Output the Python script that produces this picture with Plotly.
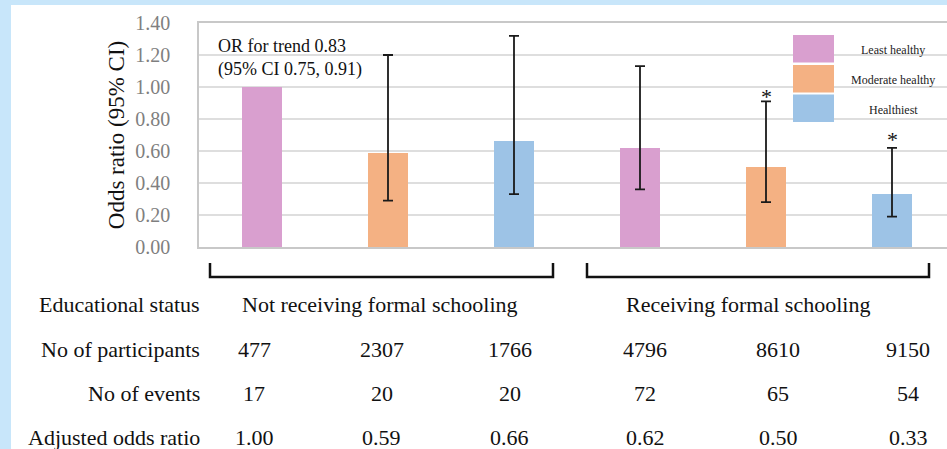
import plotly.graph_objects as go

# ---- data ----
groups = ["Not receiving formal schooling", "Receiving formal schooling"]
health = ["Least healthy", "Moderate healthy", "Healthiest"]
odds = [1.00, 0.59, 0.66, 0.62, 0.50, 0.33]
ci_upper = [None, 1.20, 1.32, 1.13, 0.91, 0.62]
ci_lower = [None, 0.29, 0.33, 0.36, 0.28, 0.19]
participants = ["477", "2307", "1766", "4796", "8610", "9150"]
events = ["17", "20", "20", "72", "65", "54"]
aor_labels = ["1.00", "0.59", "0.66", "0.62", "0.50", "0.33"]
significant = [False, False, False, False, True, True]
row_labels = ["Educational status", "No of participants", "No of events", "Adjusted odds ratio"]
y_ticks = [0, 0.2, 0.4, 0.6, 0.8, 1.0, 1.2, 1.4]
y_ticktext = ["0.00", "0.20", "0.40", "0.60", "0.80", "1.00", "1.20", "1.40"]
trend_text = "OR for trend 0.83<br>(95% CI 0.75, 0.91)"

colors = ["#D99FCF", "#F4B183", "#9DC3E6"]
FONT = "Liberation Serif"

W, H = 947, 449
L, R, T, B = 199, 947, 23, 247


def px(xp):
    return (xp - L) / (R - L)


def py(yp):
    return (B - yp) / (B - T)


xpos = list(range(len(odds)))
bar_colors = [colors[i % 3] for i in xpos]
err_plus = [None if u is None else u - v for u, v in zip(ci_upper, odds)]
err_minus = [None if l is None else v - l for l, v in zip(ci_lower, odds)]

fig = go.Figure()
fig.add_trace(go.Bar(
    x=xpos, y=odds, width=0.32,
    marker=dict(color=bar_colors, line=dict(width=0)),
    showlegend=False, hoverinfo="skip",
))
# error bars (skip the reference category)
ex = [x for x, u in zip(xpos, ci_upper) if u is not None]
ey = [v for v, u in zip(odds, ci_upper) if u is not None]
ep = [p for p in err_plus if p is not None]
em = [m for m in err_minus if m is not None]
fig.add_trace(go.Scatter(
    x=ex, y=ey, mode="markers", marker=dict(size=0.1, color="rgba(0,0,0,0)"),
    error_y=dict(type="data", symmetric=False, array=ep, arrayminus=em,
                 color="#1a1a1a", thickness=1.8, width=5),
    showlegend=False, hoverinfo="skip",
))

annotations = []
shapes = []

# white panel over light-blue backdrop
shapes.append(dict(type="rect", xref="paper", yref="paper", layer="below",
                   x0=px(11), x1=px(W + 5), y0=py(5), y1=py(H + 5),
                   fillcolor="white", line=dict(width=0)))

# significance asterisks
star_shift = {4: -10, 5: -6}
for x, u, s in zip(xpos, ci_upper, significant):
    if s:
        annotations.append(dict(x=x, y=u, xref="x", yref="y", text="*",
                                showarrow=False, yanchor="bottom", yshift=star_shift.get(x, -6),
                                font=dict(family=FONT, size=22, color="#111")))

# trend annotation
annotations.append(dict(x=px(216), y=py(34), xref="paper", yref="paper",
                        text=trend_text, align="left", showarrow=False,
                        xanchor="left", yanchor="top",
                        font=dict(family=FONT, size=18, color="#111")))

# custom legend
sw_top = [35, 65, 94.5]
for i, name in enumerate(health):
    shapes.append(dict(type="rect", xref="paper", yref="paper",
                       x0=px(793), x1=px(834), y0=py(sw_top[i]), y1=py(sw_top[i] + 27.5),
                       fillcolor=colors[i], line=dict(width=0)))
    annotations.append(dict(x=px(893), y=py(sw_top[i] + 15), xref="paper", yref="paper",
                            text=name, showarrow=False, xanchor="center", yanchor="middle",
                            font=dict(family=FONT, size=12, color="#222")))

# brackets under the groups
for (x0p, x1p) in [(210, 553), (587, 929)]:
    shapes.append(dict(type="path", xref="paper", yref="paper",
                       path=f"M {px(x0p)},{py(263)} L {px(x0p)},{py(277)} L {px(x1p)},{py(277)} L {px(x1p)},{py(263)}",
                       line=dict(color="#111", width=2.5)))

# table below the chart
row_y = [304, 349, 393, 437]
for lbl, yy in zip(row_labels, row_y):
    annotations.append(dict(x=px(202), y=py(yy), xref="paper", yref="paper", text=lbl,
                            showarrow=False, xanchor="right", yanchor="middle",
                            font=dict(family=FONT, size=22, color="#111")))
group_cx = [380, 748]
for g, cx in zip(groups, group_cx):
    annotations.append(dict(x=px(cx), y=py(row_y[0]), xref="paper", yref="paper", text=g,
                            showarrow=False, xanchor="center", yanchor="middle",
                            font=dict(family=FONT, size=22, color="#111")))
col_cx = [254, 381.5, 509.5, 645, 778, 908]
for rowvals, yy in zip([participants, events, aor_labels], row_y[1:]):
    for v, cx in zip(rowvals, col_cx):
        annotations.append(dict(x=px(cx), y=py(yy), xref="paper", yref="paper", text=v,
                                showarrow=False, xanchor="center", yanchor="middle",
                                font=dict(family=FONT, size=22, color="#111")))

fig.update_layout(
    width=W, height=H,
    margin=dict(l=L, r=W - R, t=T, b=H - B, pad=0),
    paper_bgcolor="#C8E6FA", plot_bgcolor="white",
    font=dict(family=FONT),
    bargap=0,
    shapes=shapes, annotations=annotations,
    xaxis=dict(range=[-0.5, (R - 262) / 126.0], showticklabels=False, showgrid=False,
               zeroline=False, showline=True, linecolor="#C8C8C8", linewidth=1.5,
               mirror=True, ticks=""),
    yaxis=dict(range=[0, 1.4], tickvals=y_ticks, ticktext=y_ticktext,
               tickfont=dict(family=FONT, size=20, color="#7F7F7F"),
               showgrid=True, gridcolor="#DEDEDE", gridwidth=1.5,
               zeroline=False, showline=True, linecolor="#C8C8C8", linewidth=1.5,
               ticks="", ticklabelstandoff=23,
               title=dict(text="Odds ratio (95% CI)", standoff=4,
                          font=dict(family=FONT, size=23, color="#111"))),
)

fig.write_html("out.html", config={"displayModeBar": False},
               post_script="document.body.style.margin='0';document.body.style.overflow='hidden';")
